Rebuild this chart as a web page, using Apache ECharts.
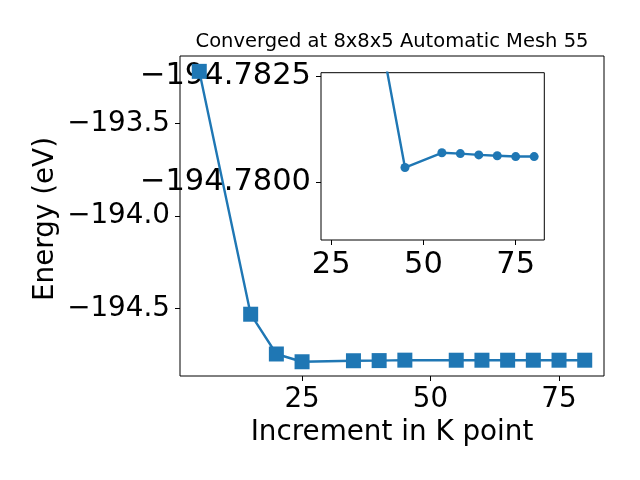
<!DOCTYPE html>
<html>
<head>
<meta charset="utf-8">
<script src="https://cdn.jsdelivr.net/npm/echarts@6/dist/echarts.min.js"></script>
<style>html,body{margin:0;padding:0;background:#fff}#c{width:640px;height:480px}</style>
</head>
<body>
<div id="c"></div>
<script>
const kpoints = [5, 15, 20, 25, 35, 40, 45, 55, 60, 65, 70, 75, 80];
const energies = [-193.219, -194.532, -194.747, -194.789, -194.7835, -194.7827, -194.78034, -194.78069, -194.78067, -194.78064, -194.78062, -194.7806, -194.7806];
const insetFromK = 25;
const mainXTicks = [25, 50, 75];
const mainYTicks = [-194.5, -194.0, -193.5];
const insetXTicks = [25, 50, 75];
const insetYTicks = [-194.7825, -194.78];
const titleText = 'Converged at 8x8x5 Automatic Mesh 55';
const xLabel = 'Increment in K point';
const yLabel = 'Energy (eV)';

const FONT = 'DejaVu Sans';
const BLUE = '#1f77b4';
const pts = kpoints.map((k, i) => [k, energies[i]]);
const insetPts = pts.filter(p => p[0] >= insetFromK);
const minus = s => s.replace('-', '\u2212');

const chart = echarts.init(document.getElementById('c'), null, {renderer: 'canvas'});
const tickStyle = {show: true, inside: false, length: 5, lineStyle: {color: '#000', width: 1}};
const lblMain = {fontFamily: FONT, fontSize: 27.8, color: '#000'};
const lblInset = {fontFamily: FONT, fontSize: 30.5, color: '#000'};

chart.setOption({
  animation: false,
  backgroundColor: '#fff',
  grid: [
    {left: 180, top: 56, width: 424, height: 320, show: true, borderColor: '#000', borderWidth: 1, backgroundColor: 'transparent', containLabel: false, z: 1},
    {left: 321, top: 72.7, width: 223.3, height: 167.3, show: true, borderColor: '#000', borderWidth: 1, backgroundColor: '#fff', containLabel: false, z: 1}
  ],
  graphic: [
    {type: 'text', x: 392, y: 42, z: 20,
     style: {text: titleText, fontFamily: FONT, fontSize: 19.5, fill: '#000', align: 'center', verticalAlign: 'middle'}},
    {type: 'text', x: 46, y: 219, rotation: Math.PI / 2, z: 20,
     style: {text: yLabel, fontFamily: FONT, fontSize: 27.8, fill: '#000', align: 'center', verticalAlign: 'middle'}}
  ],
  xAxis: [
    {type: 'value', gridIndex: 0, min: 1.25, max: 83.75, z: 0,
     splitLine: {show: false}, axisLine: {show: false},
     axisTick: Object.assign({customValues: mainXTicks}, tickStyle),
     axisLabel: Object.assign({customValues: mainXTicks, margin: 10, formatter: v => String(v)}, lblMain),
     name: xLabel, nameLocation: 'middle', nameGap: 39,
     nameTextStyle: {fontFamily: FONT, fontSize: 27.8, color: '#000'}},
    {type: 'value', gridIndex: 1, min: 22.25, max: 82.75, z: 0,
     splitLine: {show: false}, axisLine: {show: false},
     axisTick: Object.assign({customValues: insetXTicks}, tickStyle),
     axisLabel: Object.assign({customValues: insetXTicks, margin: 10, formatter: v => String(v)}, lblInset)}
  ],
  yAxis: [
    {type: 'value', gridIndex: 0, min: -194.866, max: -193.136, z: 0,
     splitLine: {show: false}, axisLine: {show: false},
     axisTick: Object.assign({customValues: mainYTicks}, tickStyle),
     axisLabel: Object.assign({customValues: mainYTicks, margin: 10, formatter: v => minus(v.toFixed(1))}, lblMain)},
    {type: 'value', gridIndex: 1, inverse: true, min: -194.78259, max: -194.77862, z: 0,
     splitLine: {show: false}, axisLine: {show: false},
     axisTick: Object.assign({customValues: insetYTicks}, tickStyle),
     axisLabel: Object.assign({customValues: insetYTicks, margin: 10, formatter: v => minus(v.toFixed(4))}, lblInset)}
  ],
  series: [
    {type: 'line', xAxisIndex: 0, yAxisIndex: 0, data: pts, z: 3,
     symbol: 'rect', symbolSize: 15, showAllSymbol: true,
     lineStyle: {color: BLUE, width: 2.4}, itemStyle: {color: BLUE}},
    {type: 'line', xAxisIndex: 1, yAxisIndex: 1, data: insetPts, z: 6, clip: true,
     symbol: 'circle', symbolSize: 9, showAllSymbol: true,
     lineStyle: {color: BLUE, width: 2.4}, itemStyle: {color: BLUE}}
  ]
});
</script>
</body>
</html>
